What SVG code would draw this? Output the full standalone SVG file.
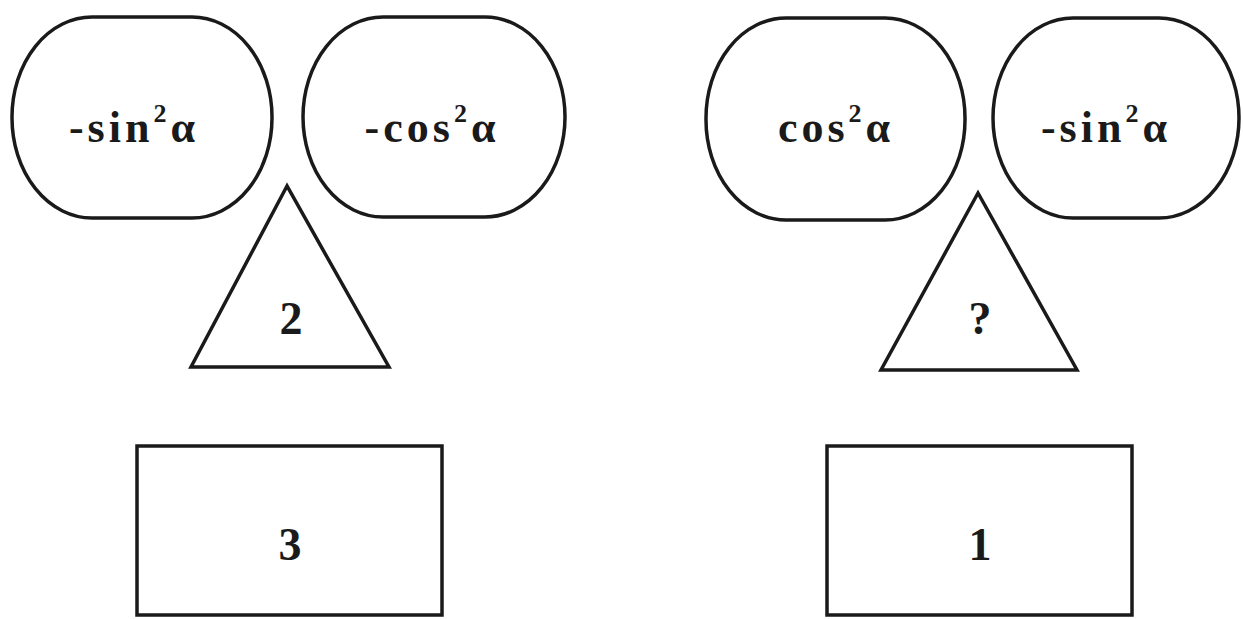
<svg xmlns="http://www.w3.org/2000/svg" width="1243" height="619" viewBox="0 0 1243 619">
<style>
.s{fill:#fff;stroke:#1a1a1a;stroke-width:3.5}
.t{font-family:"Liberation Serif","DejaVu Serif",serif;font-weight:bold;fill:#1a1a1a;text-anchor:middle}
.e{font-size:44px;letter-spacing:4px}
.n{font-size:46px}
.sup{font-size:26px}
</style>
<rect width="1243" height="619" fill="#fff"/>
<g id="oval1"><rect class="s" x="12" y="17" width="260" height="201" rx="80" ry="100"/><text class="t e" x="134" y="142">-sin<tspan class="sup" dy="-20">2</tspan><tspan dy="20">α</tspan></text></g>
<g id="oval2"><rect class="s" x="303" y="17" width="262" height="200" rx="80" ry="100"/><text class="t e" x="432" y="142">-cos<tspan class="sup" dy="-20">2</tspan><tspan dy="20">α</tspan></text></g>
<g id="tri1"><polygon class="s" points="287,186 191,367 389,367"/><text class="t n" x="291" y="334">2</text></g>
<g id="box1"><rect class="s" x="137" y="446" width="305" height="169"/><text class="t n" x="290" y="560">3</text></g>
<g id="oval3"><rect class="s" x="706" y="18" width="259" height="202" rx="80" ry="100"/><text class="t e" x="836" y="142">cos<tspan class="sup" dy="-20">2</tspan><tspan dy="20">α</tspan></text></g>
<g id="oval4"><rect class="s" x="993" y="18" width="246" height="200" rx="80" ry="100"/><text class="t e" x="1106" y="142">-sin<tspan class="sup" dy="-20">2</tspan><tspan dy="20">α</tspan></text></g>
<g id="tri2"><polygon class="s" points="978,193 881,370 1077,370"/><text class="t n" x="980" y="334">?</text></g>
<g id="box2"><rect class="s" x="827" y="446" width="305" height="169"/><text class="t n" x="980" y="560">1</text></g>
<g id="connectors"></g>
</svg>
